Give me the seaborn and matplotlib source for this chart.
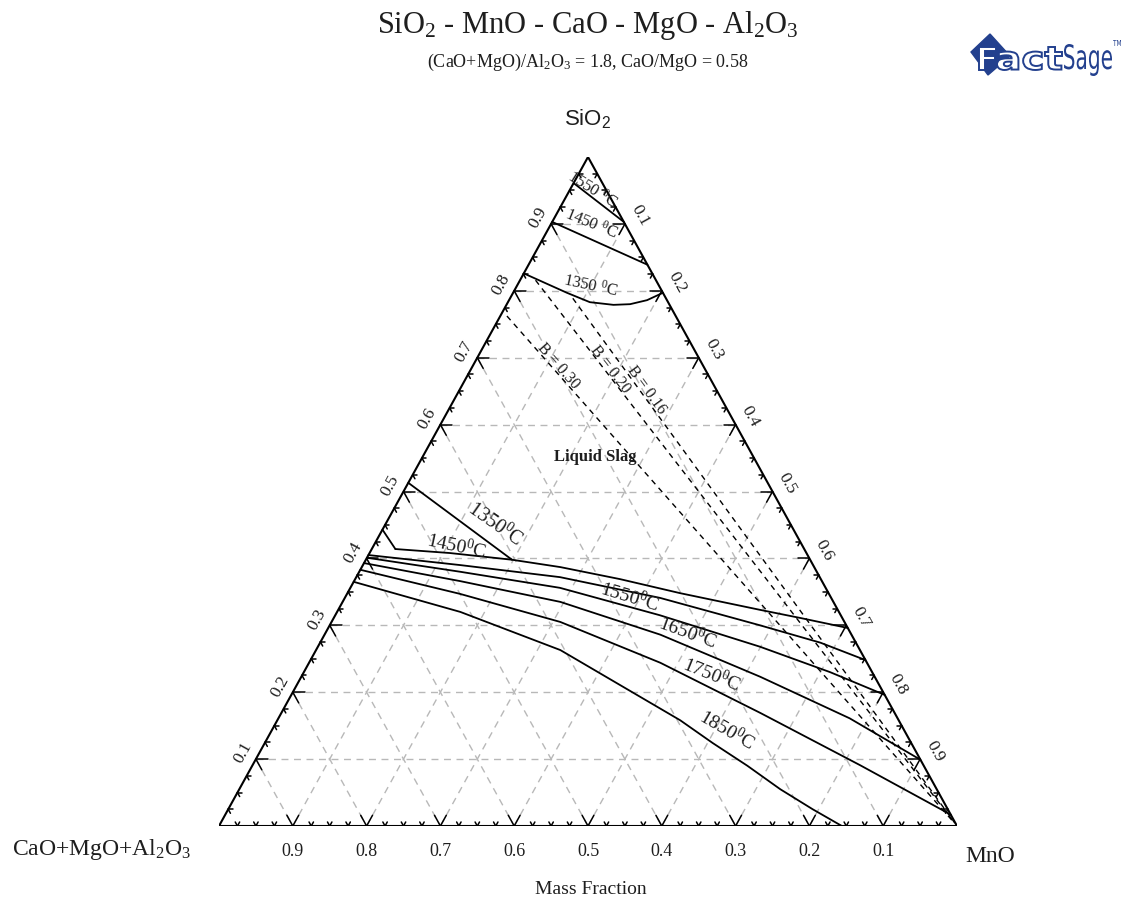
import numpy as np
import pandas as pd
import matplotlib
matplotlib.use("Agg")
import matplotlib.pyplot as plt
import matplotlib.transforms as mtransforms
from matplotlib.patches import Polygon, PathPatch
from matplotlib.textpath import TextPath
from matplotlib.font_manager import FontProperties
import seaborn as sns

# Liquidus isotherms as mass fractions (SiO2, MnO); remainder is CaO+MgO+Al2O3
top_1550_sio2 = [0.961, 0.903]
top_1550_mno = [0.000, 0.097]
top_1450_sio2 = [0.903, 0.839]
top_1450_mno = [0.000, 0.161]
top_1350_sio2 = [0.826, 0.797, 0.783, 0.779, 0.780, 0.786, 0.797]
top_1350_mno = [0.000, 0.073, 0.111, 0.145, 0.167, 0.187, 0.203]

low_1350_sio2 = [0.513, 0.398]
low_1350_mno = [0.000, 0.198]
low_1450_sio2 = [0.443, 0.414]
low_1450_mno = [0.000, 0.032]

bound_a_sio2 = [0.414, 0.408, 0.398, 0.387, 0.369, 0.348, 0.323, 0.311, 0.296]
bound_a_mno = [0.032, 0.109, 0.198, 0.269, 0.359, 0.451, 0.572, 0.632, 0.704]
bound_b_sio2 = [0.405, 0.390, 0.372, 0.341, 0.300, 0.274, 0.248]
bound_b_mno = [0.000, 0.132, 0.276, 0.427, 0.583, 0.678, 0.752]

iso_1550_sio2 = [0.401, 0.380, 0.356, 0.315, 0.268, 0.230, 0.196]
iso_1550_mno = [0.000, 0.137, 0.284, 0.440, 0.599, 0.713, 0.804]
iso_1650_sio2 = [0.393, 0.366, 0.335, 0.286, 0.223, 0.161, 0.099]
iso_1650_mno = [0.000, 0.144, 0.295, 0.455, 0.622, 0.774, 0.901]
iso_1750_sio2 = [0.383, 0.347, 0.305, 0.244, 0.169, 0.091, 0.017]
iso_1750_mno = [0.000, 0.153, 0.310, 0.476, 0.649, 0.823, 0.983]
iso_1850_sio2 = [0.365, 0.320, 0.263, 0.158, 0.124, 0.090, 0.055, 0.025, 0.000]
iso_1850_mno = [0.000, 0.167, 0.331, 0.546, 0.607, 0.671, 0.733, 0.792, 0.844]

# Iso-basicity lines, B = (CaO+MgO+Al2O3)/SiO2, running towards pure MnO
basicity = [0.30, 0.20, 0.16]
basicity_start_mno = [0.009, 0.021, 0.085]
basicity_end_mno = 0.995
basicity_label_mno = [0.113, 0.186, 0.250]

# Isotherm labels: temperature and composition where the label sits
label_temp = [1550, 1450, 1350, 1350, 1450, 1550, 1650, 1750, 1850]
label_sio2 = [0.951, 0.900, 0.807, 0.450, 0.4185, 0.342, 0.290, 0.226, 0.1435]
label_mno = [0.030, 0.0555, 0.1005, 0.149, 0.112, 0.386, 0.4905, 0.555, 0.6165]
label_rot = [-32, -22, -12, -35, -12, -17, -20, -22, -30]

tick_values = [0.1, 0.2, 0.3, 0.4, 0.5, 0.6, 0.7, 0.8, 0.9]

SERIF = ["Liberation Serif", "DejaVu Serif"]
SANS = ["Liberation Sans", "DejaVu Sans"]
INK = "#1e1e1e"

sns.set_theme(style="white")
plt.rcParams["font.family"] = SERIF
plt.rcParams["mathtext.fontset"] = "custom"
plt.rcParams["mathtext.rm"] = "Liberation Serif"
plt.rcParams["mathtext.it"] = "Liberation Serif:italic"


def to_xy(sio2, mno):
    s = np.asarray(sio2, dtype=float)
    m = np.asarray(mno, dtype=float)
    return m + s / 2.0, s


W, H = 1127, 901
fig = plt.figure(figsize=(W / 100, H / 100), dpi=100)
ax = fig.add_axes([219 / W, 75 / H, 738 / W, 669 / H])
ax.set_xlim(0, 1)
ax.set_ylim(0, 1)
ax.axis("off")

# dashed composition grid
grid_kw = dict(color="#b8b8b8", lw=1.0, dashes=(5, 4), zorder=1)
for v in tick_values:
    for (s0, m0), (s1, m1) in [((v, 0), (v, 1 - v)),
                               ((0, v), (1 - v, v)),
                               ((1 - v, 0), (0, 1 - v))]:
        x, y = to_xy([s0, s1], [m0, m1])
        ax.plot(x, y, **grid_kw)

# triangle frame
ax.plot([0, 1, 0.5, 0], [0, 0, 1, 0], color="black", lw=1.5, zorder=4,
        solid_joinstyle="miter")


# edge ticks
def stub(s0, m0, ds, dm):
    x, y = to_xy([s0, s0 + ds], [m0, m0 + dm])
    ax.plot(x, y, color="black", lw=1.1, zorder=4)


for k in range(1, 40):
    v = k * 0.025
    L = 0.016 if k % 4 == 0 else 0.006
    stub(0, v, L, 0)
    stub(0, v, L, -L)
    stub(v, 0, 0, L)
    stub(v, 0, -L, L)
    stub(v, 1 - v, 0, -L)
    stub(v, 1 - v, -L, 0)


# tick labels
def off(dx, dy):
    return mtransforms.offset_copy(ax.transData, fig=fig, x=dx, y=dy, units="dots")


for v in tick_values:
    x, y = to_xy(v, 0)
    ax.text(x, y, f"{v:.1f}", transform=off(-13, 6), rotation=61,
            ha="center", va="center", fontsize=12.5, family=SERIF, color=INK)
    x, y = to_xy(v, 1 - v)
    ax.text(x, y, f"{1 - v:.1f}", transform=off(15, 8), rotation=-61,
            ha="center", va="center", fontsize=12.5, family=SERIF, color=INK)
    x, y = to_xy(0, v)
    ax.text(x, y, f"{1 - v:.1f}", transform=off(0, -25),
            ha="center", va="center", fontsize=13, family=SERIF, color=INK)

# isotherms and phase boundaries
solid_lines = [
    ("1550a", top_1550_sio2, top_1550_mno),
    ("1450a", top_1450_sio2, top_1450_mno),
    ("1350a", top_1350_sio2, top_1350_mno),
    ("1350b", low_1350_sio2, low_1350_mno),
    ("1450b", low_1450_sio2, low_1450_mno),
    ("bound_a", bound_a_sio2, bound_a_mno),
    ("bound_b", bound_b_sio2, bound_b_mno),
    ("1550b", iso_1550_sio2, iso_1550_mno),
    ("1650", iso_1650_sio2, iso_1650_mno),
    ("1750", iso_1750_sio2, iso_1750_mno),
    ("1850", iso_1850_sio2, iso_1850_mno),
]
rows = []
for name, si, mn in solid_lines:
    xs, ys = to_xy(si, mn)
    for i, (xx, yy) in enumerate(zip(xs, ys)):
        rows.append({"line": name, "order": i, "x": xx, "y": yy})
df_iso = pd.DataFrame(rows)
sns.lineplot(data=df_iso, x="x", y="y", units="line", estimator=None, sort=False,
             color="black", linewidth=1.3, legend=False, ax=ax, zorder=3)

# iso-basicity lines
rows = []
for b, m0 in zip(basicity, basicity_start_mno):
    mn = np.array([m0, basicity_end_mno])
    si = (1 - mn) / (1 + b)
    xs, ys = to_xy(si, mn)
    for xx, yy in zip(xs, ys):
        rows.append({"B": b, "x": xx, "y": yy})
df_b = pd.DataFrame(rows)
sns.lineplot(data=df_b, x="x", y="y", units="B", estimator=None, sort=False,
             color="black", linewidth=1.0, linestyle=(0, (4, 3.5)), legend=False,
             ax=ax, zorder=3)

b_rot = [-48.6, -52.3, -54.0]
for b, m, r in zip(basicity, basicity_label_mno, b_rot):
    si = (1 - m) / (1 + b)
    x, y = to_xy(si, m)
    ax.text(x, y, f"B = {b:.2f}", transform=off(4, 3), rotation=r, rotation_mode="anchor",
            ha="center", va="center", fontsize=11.5, family=SERIF, color=INK, zorder=5)

# isotherm labels
for i, (t, s, m, r) in enumerate(zip(label_temp, label_sio2, label_mno, label_rot)):
    x, y = to_xy(s, m)
    if i < 3:
        txt = rf"{t} $^{{\mathregular{{0}}}}$C"
        fs = 12
    else:
        txt = rf"{t}$^{{\mathregular{{0}}}}$C"
        fs = 14.5 if i == 3 else 14
    ax.text(x, y, txt, rotation=r, rotation_mode="anchor", ha="center", va="center",
            fontsize=fs, family=SERIF, color=INK, zorder=5)

ax.text(0.5095, 0.5516, "Liquid Slag", ha="center", va="center", fontsize=12,
        fontweight="bold", family=SERIF, color=INK, zorder=5)

# corner and axis captions
fig.text(588 / W, 1 - 118 / H, r"SiO$_\mathregular{2}$", ha="center", va="center",
         fontsize=16, family=SANS, color=INK)
fig.text(102 / W, 1 - 850 / H, r"CaO+MgO+Al$_\mathregular{2}$O$_\mathregular{3}$",
         ha="center", va="center", fontsize=17, family=SERIF, color=INK)
fig.text(990 / W, 1 - 857 / H, "MnO", ha="center", va="center", fontsize=17,
         family=SERIF, color=INK)
fig.text(591 / W, 1 - 889 / H, "Mass Fraction", ha="center", va="center",
         fontsize=14, family=SERIF, color=INK)

# titles
fig.text(588 / W, 1 - 25 / H,
         r"SiO$_\mathregular{2}$ - MnO - CaO - MgO - Al$_\mathregular{2}$O$_\mathregular{3}$",
         ha="center", va="center", fontsize=22, family=SERIF, color=INK)
fig.text(588 / W, 1 - 62 / H,
         r"(CaO+MgO)/Al$_\mathregular{2}$O$_\mathregular{3}$ = 1.8, CaO/MgO = 0.58",
         ha="center", va="center", fontsize=13, family=SERIF, color=INK)

# FactSage logo, laid out in figure pixels
NAVY = "#23408e"
lax = fig.add_axes([950 / W, 1 - 92 / H, 177 / W, 64 / H])
lax.set_xlim(950, 1127)
lax.set_ylim(92, 28)
lax.axis("off")
lax.add_patch(Polygon([(971, 52), (990, 34), (1010, 56), (988, 75)], closed=True,
                      facecolor=NAVY, edgecolor=NAVY))


def fitted_word(word, x0, x1, y_top, y_bottom, prop, face, edge=None, lw=0.0):
    tp = TextPath((0, 0), word, size=1, prop=prop)
    ext = tp.get_extents()
    tr = (mtransforms.Affine2D()
          .translate(-ext.x0, -ext.y0)
          .scale((x1 - x0) / ext.width, -(y_bottom - y_top) / ext.height)
          .translate(x0, y_bottom))
    patch = PathPatch(tr.transform_path(tp), facecolor=face,
                      edgecolor=edge if edge else face, lw=lw)
    lax.add_patch(patch)


bold = FontProperties(family="DejaVu Sans", weight="bold")
plain = FontProperties(family="DejaVu Sans")
fitted_word("F", 979, 996, 47, 70, bold, "white", NAVY, 1.4)
fitted_word("act", 997, 1062, 47, 70, bold, "white", NAVY, 1.4)
fitted_word("Sage", 1064, 1112, 44, 76, plain, NAVY)
fitted_word("TM", 1113, 1121, 40, 46, plain, NAVY)

fig.savefig("out.png", dpi=100, facecolor="white")
